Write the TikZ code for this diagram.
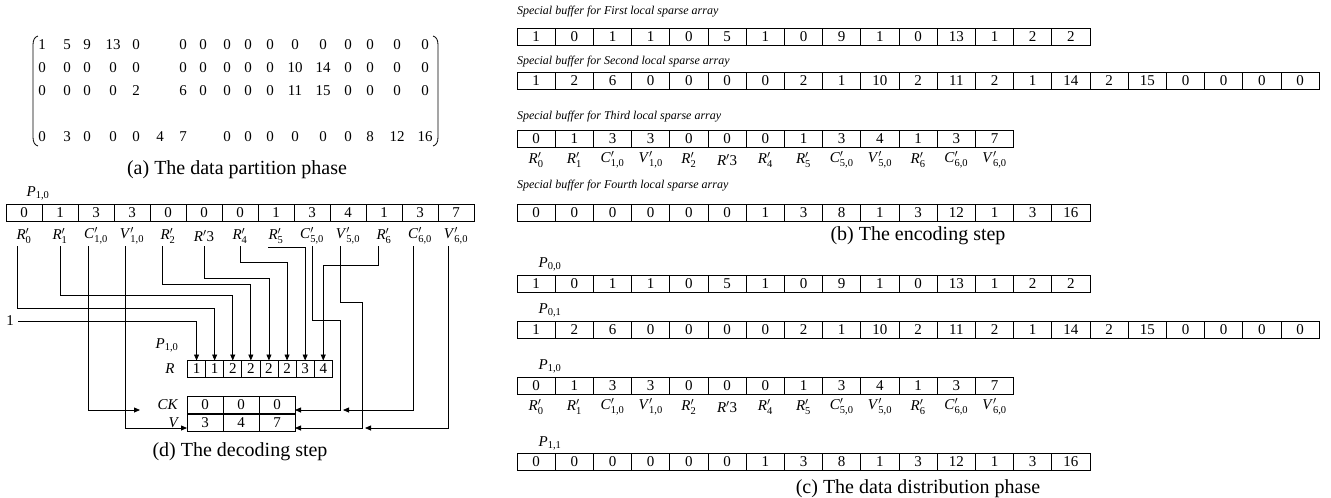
\documentclass[tikz,border=0pt]{standalone}
\usepackage{amsmath}
\usepackage{fontspec}
\setmainfont{Liberation Serif}
\usetikzlibrary{arrows.meta}
\newcommand{\Lp}[2]{\textit{#1}$'_{\text{#2}}$}
\newcommand{\Lq}{\textit{R}$'$3}
\newcommand{\Pl}[1]{\textit{P}$_{\text{#1}}$}
\newcommand{\cellrow}[5]{\foreach \v [count=\i from 0] in {#5}{\node[cell, minimum width=#4pt] (#1-\i) at ({#2+(\i+0.5)*#4},{#3}) {\v};}}
\newcommand{\labrow}[4]{\foreach \t [count=\i from 0] in {{\Lp{R}{0}},{\Lp{R}{1}},{\Lp{C}{1,0}},{\Lp{V}{1,0}},{\Lp{R}{2}},{\Lq},{\Lp{R}{4}},{\Lp{R}{5}},{\Lp{C}{5,0}},{\Lp{V}{5,0}},{\Lp{R}{6}},{\Lp{C}{6,0}},{\Lp{V}{6,0}}}{\node[lab] (#1-\i) at ({#2+(\i+0.5)*#4},{#3}) {\t};}}
\begin{document}
\begin{tikzpicture}[x=1pt,y=-1pt,
  every node/.style={inner sep=0pt, outer sep=0pt},
  cell/.style={draw, line width=0.8pt, minimum height=17pt, font=\fontsize{15}{15}\selectfont},
  con/.style={line width=0.8pt},
  arr/.style={con, -{Triangle[length=6pt,width=5pt]}},
  captext/.style={font=\fontsize{20}{20}\selectfont},
  ital/.style={font=\fontsize{12}{12}\selectfont\itshape, anchor=west},
  lab/.style={font=\fontsize{15}{15}\selectfont},
  num/.style={font=\fontsize{15}{15}\selectfont},
  plab/.style={font=\fontsize{15}{15}\selectfont}]
\useasboundingbox (0,0) rectangle (1331,498);

% ---------------- (a) matrix ----------------
\draw[con] (38,36) .. controls (34.5,37) and (33,40) .. (33,45) -- (33,137) .. controls (33,142) and (34.5,145) .. (38,146);
\draw[con] (433,36) .. controls (436.5,37) and (438,40) .. (438,45) -- (438,137) .. controls (438,142) and (436.5,145) .. (433,146);
\foreach \x/\v [count=\k] in {42/1,67/5,87/9,113/13,136/0,183/0,203/0,227/0,248/0,270/0,295/0,323/0,348/0,370/0,397/0,425/0}
  {\node[num] (ma-\k) at (\x,45) {\v};}
\foreach \x/\v [count=\k] in {42/0,67/0,87/0,113/0,136/0,183/0,203/0,227/0,248/0,270/0,295/10,323/14,348/0,370/0,397/0,425/0}
  {\node[num] (mb-\k) at (\x,68) {\v};}
\foreach \x/\v [count=\k] in {42/0,67/0,87/0,113/0,136/2,183/6,203/0,227/0,248/0,270/0,295/11,323/15,348/0,370/0,397/0,425/0}
  {\node[num] (mc-\k) at (\x,91) {\v};}
\foreach \x/\v [count=\k] in {42/0,67/3,87/0,113/0,136/0,160/4,183/7,227/0,248/0,270/0,295/0,323/0,348/0,370/8,397/12,425/16}
  {\node[num] (md-\k) at (\x,137) {\v};}
\node[captext] (capa) at (237,170) {(a) The data partition phase};

% ---------------- (d) decoding ----------------
\node[plab] (dp) at (38,193) {\Pl{1,0}};
\cellrow{d}{6}{213}{36}{0,1,3,3,0,0,0,1,3,4,1,3,7}
\labrow{dl}{6}{236}{36}
\node[plab] (dp2) at (167,345) {\Pl{1,0}};
\node[lab] (rl) at (170,369) {\textit{R}};
\cellrow{r}{187.5}{369}{18.1}{1,1,2,2,2,2,3,4}
\node[lab] (ckl) at (168,405) {\textit{CK}};
\node[lab] (vl) at (174,423) {\textit{V}};
\cellrow{ck}{187}{405}{36}{0,0,0}
\cellrow{v}{187}{423}{36}{3,4,7}
\node[num] (one) at (10,321) {1};
\coordinate (s0) at (17,246);
\coordinate (s1) at (60,246);
\coordinate (s2) at (88,246);
\coordinate (s3) at (125,246);
\coordinate (s4) at (162,246);
\coordinate (s5) at (204,246);
\coordinate (s6) at (240,246);
\coordinate (s7) at (268,247);
\coordinate (s8) at (312,246);
\coordinate (s9) at (340,246);
\coordinate (s10) at (378,246);
\coordinate (s11) at (413,246);
\coordinate (s12) at (448,246);
\coordinate (ckin) at (140,410);
\coordinate (onestart) at (18,321);
\draw[arr] (onestart) -| (r-0.north);
\draw[arr] (s0) -- (17,308) -| (r-1.north);
\draw[arr] (s1) -- (60,295) -| (r-2.north);
\draw[arr] (s2) |- (ckin);
\draw[arr] (s3) |- ([yshift=-5pt]v-0.west);
\draw[arr] (s4) -- (162,284) -| (r-3.north);
\draw[arr] (s5) -- (204,278) -| (r-4.north);
\draw[arr] (s6) -- (240,262) -| (r-5.north);
\draw[arr] (s7) -| (r-6.north);
\draw[arr] (s8) -- (312,320) -- (340,320) |- ([yshift=-5pt]ck-2.east);
\draw[arr] (s9) -- (340,302) -- (362,302) |- ([yshift=-5pt]v-2.east);
\draw[arr] (s10) -- (378,265) -| (r-7.north);
\draw[arr] (s11) |- (343,410);
\draw[arr] (s12) |- (365,428);
\node[captext] (capd) at (240,452) {(d) The decoding step};

% ---------------- (b) encoding ----------------
\node[ital] (h1) at (517,12) {Special buffer for First local sparse array};
\cellrow{b1}{517}{37}{38.2}{1,0,1,1,0,5,1,0,9,1,0,13,1,2,2}
\node[ital] (h2) at (517,62) {Special buffer for Second local sparse array};
\cellrow{b2}{517}{81}{38.2}{1,2,6,0,0,0,0,2,1,10,2,11,2,1,14,2,15,0,0,0,0}
\node[ital] (h3) at (517,117) {Special buffer for Third local sparse array};
\cellrow{b3}{517}{138.5}{38.2}{0,1,3,3,0,0,0,1,3,4,1,3,7}
\labrow{bl}{517}{160}{38.2}
\node[ital] (h4) at (517,186) {Special buffer for Fourth local sparse array};
\cellrow{b4}{517}{212.5}{38.2}{0,0,0,0,0,0,1,3,8,1,3,12,1,3,16}
\node[captext] (capb) at (918,236) {(b) The encoding step};

% ---------------- (c) distribution ----------------
\node[plab] (p00) at (550,264) {\Pl{0,0}};
\cellrow{c1}{517}{283.5}{38.2}{1,0,1,1,0,5,1,0,9,1,0,13,1,2,2}
\node[plab] (p01) at (550,310) {\Pl{0,1}};
\cellrow{c2}{517}{329.5}{38.2}{1,2,6,0,0,0,0,2,1,10,2,11,2,1,14,2,15,0,0,0,0}
\node[plab] (p10) at (550,366) {\Pl{1,0}};
\cellrow{c3}{517}{386}{38.2}{0,1,3,3,0,0,0,1,3,4,1,3,7}
\labrow{cl}{517}{407}{38.2}
\node[plab] (p11) at (550,443) {\Pl{1,1}};
\cellrow{c4}{517}{462}{38.2}{0,0,0,0,0,0,1,3,8,1,3,12,1,3,16}
\node[captext] (capc) at (918,489) {(c) The data distribution phase};
\end{tikzpicture}
\end{document}
